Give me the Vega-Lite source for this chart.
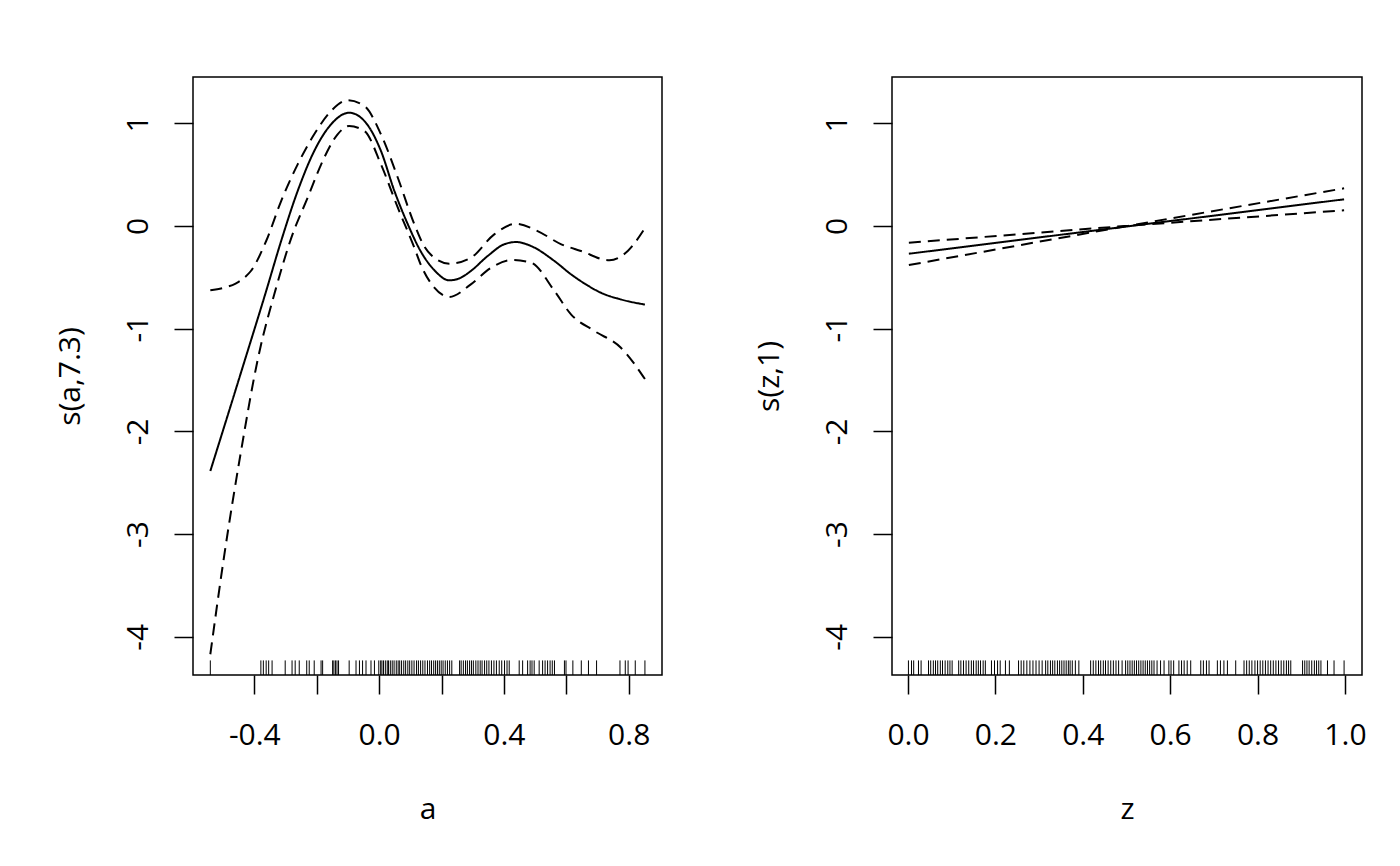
{
  "$schema": "https://vega.github.io/schema/vega-lite/v6.json",
  "padding": {"left": 54, "top": 76, "right": 0, "bottom": 40},
  "spacing": 230,
  "bounds": "flush",
  "datasets": {
    "curveA": [
      {"a": -0.541, "s": -2.386, "curve": "fit"},
      {"a": -0.49, "s": -1.89, "curve": "fit"},
      {"a": -0.443, "s": -1.43, "curve": "fit"},
      {"a": -0.362, "s": -0.633, "curve": "fit"},
      {"a": -0.314, "s": -0.146, "curve": "fit"},
      {"a": -0.261, "s": 0.341, "curve": "fit"},
      {"a": -0.208, "s": 0.73, "curve": "fit"},
      {"a": -0.154, "s": 0.99, "curve": "fit"},
      {"a": -0.096, "s": 1.103, "curve": "fit"},
      {"a": -0.047, "s": 1.022, "curve": "fit"},
      {"a": 0.006, "s": 0.73, "curve": "fit"},
      {"a": 0.049, "s": 0.341, "curve": "fit"},
      {"a": 0.092, "s": 0.017, "curve": "fit"},
      {"a": 0.134, "s": -0.25, "curve": "fit"},
      {"a": 0.177, "s": -0.43, "curve": "fit"},
      {"a": 0.225, "s": -0.529, "curve": "fit"},
      {"a": 0.262, "s": -0.503, "curve": "fit"},
      {"a": 0.294, "s": -0.438, "curve": "fit"},
      {"a": 0.348, "s": -0.292, "curve": "fit"},
      {"a": 0.401, "s": -0.178, "curve": "fit"},
      {"a": 0.439, "s": -0.156, "curve": "fit"},
      {"a": 0.487, "s": -0.195, "curve": "fit"},
      {"a": 0.562, "s": -0.341, "curve": "fit"},
      {"a": 0.615, "s": -0.47, "curve": "fit"},
      {"a": 0.669, "s": -0.58, "curve": "fit"},
      {"a": 0.711, "s": -0.65, "curve": "fit"},
      {"a": 0.775, "s": -0.715, "curve": "fit"},
      {"a": 0.852, "s": -0.765, "curve": "fit"},
      {"a": -0.541, "s": -0.625, "curve": "upper"},
      {"a": -0.496, "s": -0.6, "curve": "upper"},
      {"a": -0.46, "s": -0.56, "curve": "upper"},
      {"a": -0.432, "s": -0.503, "curve": "upper"},
      {"a": -0.411, "s": -0.438, "curve": "upper"},
      {"a": -0.362, "s": -0.146, "curve": "upper"},
      {"a": -0.314, "s": 0.243, "curve": "upper"},
      {"a": -0.261, "s": 0.6, "curve": "upper"},
      {"a": -0.208, "s": 0.893, "curve": "upper"},
      {"a": -0.154, "s": 1.12, "curve": "upper"},
      {"a": -0.101, "s": 1.224, "curve": "upper"},
      {"a": -0.047, "s": 1.168, "curve": "upper"},
      {"a": 0.006, "s": 0.893, "curve": "upper"},
      {"a": 0.06, "s": 0.47, "curve": "upper"},
      {"a": 0.113, "s": 0.017, "curve": "upper"},
      {"a": 0.145, "s": -0.2, "curve": "upper"},
      {"a": 0.177, "s": -0.309, "curve": "upper"},
      {"a": 0.225, "s": -0.367, "curve": "upper"},
      {"a": 0.294, "s": -0.309, "curve": "upper"},
      {"a": 0.369, "s": -0.081, "curve": "upper"},
      {"a": 0.439, "s": 0.022, "curve": "upper"},
      {"a": 0.508, "s": -0.049, "curve": "upper"},
      {"a": 0.584, "s": -0.178, "curve": "upper"},
      {"a": 0.647, "s": -0.243, "curve": "upper"},
      {"a": 0.738, "s": -0.334, "curve": "upper"},
      {"a": 0.797, "s": -0.243, "curve": "upper"},
      {"a": 0.852, "s": -0.02, "curve": "upper"},
      {"a": -0.541, "s": -4.17, "curve": "lower"},
      {"a": -0.496, "s": -3.2, "curve": "lower"},
      {"a": -0.443, "s": -2.2, "curve": "lower"},
      {"a": -0.389, "s": -1.3, "curve": "lower"},
      {"a": -0.33, "s": -0.6, "curve": "lower"},
      {"a": -0.282, "s": -0.12, "curve": "lower"},
      {"a": -0.229, "s": 0.276, "curve": "lower"},
      {"a": -0.176, "s": 0.665, "curve": "lower"},
      {"a": -0.133, "s": 0.893, "curve": "lower"},
      {"a": -0.096, "s": 0.974, "curve": "lower"},
      {"a": -0.047, "s": 0.925, "curve": "lower"},
      {"a": 0.006, "s": 0.6, "curve": "lower"},
      {"a": 0.06, "s": 0.178, "curve": "lower"},
      {"a": 0.113, "s": -0.211, "curve": "lower"},
      {"a": 0.134, "s": -0.38, "curve": "lower"},
      {"a": 0.177, "s": -0.6, "curve": "lower"},
      {"a": 0.225, "s": -0.691, "curve": "lower"},
      {"a": 0.294, "s": -0.568, "curve": "lower"},
      {"a": 0.359, "s": -0.406, "curve": "lower"},
      {"a": 0.428, "s": -0.331, "curve": "lower"},
      {"a": 0.487, "s": -0.357, "curve": "lower"},
      {"a": 0.562, "s": -0.633, "curve": "lower"},
      {"a": 0.615, "s": -0.86, "curve": "lower"},
      {"a": 0.69, "s": -1.022, "curve": "lower"},
      {"a": 0.775, "s": -1.185, "curve": "lower"},
      {"a": 0.852, "s": -1.49, "curve": "lower"}
    ],
    "rugA": [
      {"a": -0.541}, {"a": -0.379}, {"a": -0.371}, {"a": -0.362}, {"a": -0.354}, {"a": -0.343},
      {"a": -0.301}, {"a": -0.279}, {"a": -0.269}, {"a": -0.256}, {"a": -0.232}, {"a": -0.224},
      {"a": -0.208}, {"a": -0.186}, {"a": -0.181}, {"a": -0.149}, {"a": -0.145}, {"a": -0.14},
      {"a": -0.135}, {"a": -0.13}, {"a": -0.096}, {"a": -0.074}, {"a": -0.063}, {"a": -0.053},
      {"a": -0.042}, {"a": -0.026}, {"a": -0.015}, {"a": -0.001}, {"a": 0.005}, {"a": 0.009},
      {"a": 0.014}, {"a": 0.02}, {"a": 0.026}, {"a": 0.03}, {"a": 0.036}, {"a": 0.042},
      {"a": 0.048}, {"a": 0.055}, {"a": 0.061}, {"a": 0.066}, {"a": 0.072}, {"a": 0.079},
      {"a": 0.085}, {"a": 0.092}, {"a": 0.098}, {"a": 0.105}, {"a": 0.112}, {"a": 0.12},
      {"a": 0.126}, {"a": 0.133}, {"a": 0.14}, {"a": 0.147}, {"a": 0.155}, {"a": 0.162},
      {"a": 0.168}, {"a": 0.175}, {"a": 0.181}, {"a": 0.187}, {"a": 0.193}, {"a": 0.199},
      {"a": 0.205}, {"a": 0.212}, {"a": 0.219}, {"a": 0.226}, {"a": 0.233}, {"a": 0.258},
      {"a": 0.263}, {"a": 0.27}, {"a": 0.277}, {"a": 0.283}, {"a": 0.29}, {"a": 0.296},
      {"a": 0.302}, {"a": 0.31}, {"a": 0.317}, {"a": 0.324}, {"a": 0.33}, {"a": 0.338},
      {"a": 0.345}, {"a": 0.352}, {"a": 0.36}, {"a": 0.368}, {"a": 0.376}, {"a": 0.385},
      {"a": 0.393}, {"a": 0.402}, {"a": 0.41}, {"a": 0.417}, {"a": 0.449}, {"a": 0.46},
      {"a": 0.476}, {"a": 0.484}, {"a": 0.49}, {"a": 0.497}, {"a": 0.513}, {"a": 0.524},
      {"a": 0.532}, {"a": 0.54}, {"a": 0.548}, {"a": 0.555}, {"a": 0.562}, {"a": 0.594},
      {"a": 0.599}, {"a": 0.621}, {"a": 0.648}, {"a": 0.671}, {"a": 0.697}, {"a": 0.772},
      {"a": 0.789}, {"a": 0.798}, {"a": 0.821}, {"a": 0.852}
    ],
    "curveZ": [
      {"z": 0.002, "s": -0.27, "curve": "fit"},
      {"z": 0.998, "s": 0.26, "curve": "fit"},
      {"z": 0.002, "s": -0.163, "curve": "upper"},
      {"z": 0.505, "s": 0.003, "curve": "upper"},
      {"z": 0.998, "s": 0.367, "curve": "upper"},
      {"z": 0.002, "s": -0.38, "curve": "lower"},
      {"z": 0.505, "s": 0.003, "curve": "lower"},
      {"z": 0.998, "s": 0.153, "curve": "lower"}
    ],
    "rugZ": [
      {"z": 0.001}, {"z": 0.008}, {"z": 0.013}, {"z": 0.024}, {"z": 0.03}, {"z": 0.047},
      {"z": 0.052}, {"z": 0.058}, {"z": 0.063}, {"z": 0.068}, {"z": 0.074}, {"z": 0.079},
      {"z": 0.085}, {"z": 0.091}, {"z": 0.096}, {"z": 0.101}, {"z": 0.116}, {"z": 0.121},
      {"z": 0.127}, {"z": 0.133}, {"z": 0.139}, {"z": 0.145}, {"z": 0.15}, {"z": 0.156},
      {"z": 0.161}, {"z": 0.166}, {"z": 0.172}, {"z": 0.177}, {"z": 0.191}, {"z": 0.198},
      {"z": 0.205}, {"z": 0.211}, {"z": 0.223}, {"z": 0.232}, {"z": 0.253}, {"z": 0.259},
      {"z": 0.265}, {"z": 0.272}, {"z": 0.279}, {"z": 0.286}, {"z": 0.293}, {"z": 0.3},
      {"z": 0.307}, {"z": 0.315}, {"z": 0.32}, {"z": 0.326}, {"z": 0.331}, {"z": 0.336},
      {"z": 0.342}, {"z": 0.347}, {"z": 0.352}, {"z": 0.357}, {"z": 0.362}, {"z": 0.367},
      {"z": 0.371}, {"z": 0.376}, {"z": 0.383}, {"z": 0.391}, {"z": 0.418}, {"z": 0.424},
      {"z": 0.43}, {"z": 0.436}, {"z": 0.441}, {"z": 0.447}, {"z": 0.452}, {"z": 0.458},
      {"z": 0.464}, {"z": 0.47}, {"z": 0.476}, {"z": 0.482}, {"z": 0.49}, {"z": 0.498},
      {"z": 0.503}, {"z": 0.508}, {"z": 0.513}, {"z": 0.518}, {"z": 0.523}, {"z": 0.528},
      {"z": 0.533}, {"z": 0.538}, {"z": 0.543}, {"z": 0.548}, {"z": 0.553}, {"z": 0.558},
      {"z": 0.563}, {"z": 0.57}, {"z": 0.578}, {"z": 0.586}, {"z": 0.597}, {"z": 0.602},
      {"z": 0.608}, {"z": 0.62}, {"z": 0.626}, {"z": 0.632}, {"z": 0.639}, {"z": 0.647},
      {"z": 0.67}, {"z": 0.676}, {"z": 0.683}, {"z": 0.689}, {"z": 0.708}, {"z": 0.715},
      {"z": 0.723}, {"z": 0.731}, {"z": 0.75}, {"z": 0.769}, {"z": 0.775}, {"z": 0.781},
      {"z": 0.787}, {"z": 0.794}, {"z": 0.8}, {"z": 0.806}, {"z": 0.812}, {"z": 0.818},
      {"z": 0.824}, {"z": 0.83}, {"z": 0.836}, {"z": 0.842}, {"z": 0.848}, {"z": 0.854},
      {"z": 0.86}, {"z": 0.866}, {"z": 0.871}, {"z": 0.876}, {"z": 0.903}, {"z": 0.908},
      {"z": 0.913}, {"z": 0.918}, {"z": 0.924}, {"z": 0.93}, {"z": 0.935}, {"z": 0.94},
      {"z": 0.945}, {"z": 0.96}, {"z": 0.975}, {"z": 0.998}
    ]
  },
  "hconcat": [
    {
      "width": 469,
      "height": 598,
      "layer": [
        {
          "data": {"name": "rugA"},
          "mark": {"type": "rule", "color": "black", "strokeWidth": 1},
          "encoding": {
            "x": {
              "field": "a", "type": "quantitative", "title": "a",
              "scale": {"domain": [-0.5965, 0.9067], "nice": false, "zero": false},
              "axis": {
                "values": [-0.4, -0.2, 0, 0.2, 0.4, 0.6, 0.8],
                "labelExpr": "abs(datum.value * 10 % 4) < 0.01 ? replace(format(datum.value, '.1f'), '\u2212', '-') : ''"
              }
            },
            "y": {
              "datum": -4.23, "type": "quantitative", "title": "s(a,7.3)",
              "scale": {"domain": [-4.372, 1.451], "nice": false, "zero": false},
              "axis": {
                "values": [-4, -3, -2, -1, 0, 1],
                "labelExpr": "replace(format(datum.value, 'd'), '\u2212', '-')"
              }
            },
            "y2": {"datum": -4.372}
          }
        },
        {
          "data": {"name": "curveA"},
          "mark": {"type": "line", "interpolate": "monotone", "color": "black", "strokeWidth": 2},
          "encoding": {
            "x": {"field": "a", "type": "quantitative", "title": "a"},
            "y": {"field": "s", "type": "quantitative", "title": "s(a,7.3)"},
            "detail": {"field": "curve", "type": "nominal"},
            "strokeDash": {
              "field": "curve", "type": "nominal", "legend": null,
              "scale": {"domain": ["fit", "upper", "lower"], "range": [[1, 0], [12, 7], [12, 7]]}
            }
          }
        }
      ]
    },
    {
      "width": 470,
      "height": 598,
      "layer": [
        {
          "data": {"name": "rugZ"},
          "mark": {"type": "rule", "color": "black", "strokeWidth": 1},
          "encoding": {
            "x": {
              "field": "z", "type": "quantitative", "title": "z",
              "scale": {"domain": [-0.0366, 1.039], "nice": false, "zero": false},
              "axis": {"values": [0, 0.2, 0.4, 0.6, 0.8, 1], "format": ".1f"}
            },
            "y": {
              "datum": -4.23, "type": "quantitative", "title": "s(z,1)",
              "scale": {"domain": [-4.372, 1.451], "nice": false, "zero": false},
              "axis": {
                "values": [-4, -3, -2, -1, 0, 1],
                "labelExpr": "replace(format(datum.value, 'd'), '\u2212', '-')"
              }
            },
            "y2": {"datum": -4.372}
          }
        },
        {
          "data": {"name": "curveZ"},
          "mark": {"type": "line", "color": "black", "strokeWidth": 2},
          "encoding": {
            "x": {"field": "z", "type": "quantitative", "title": "z"},
            "y": {"field": "s", "type": "quantitative", "title": "s(z,1)"},
            "detail": {"field": "curve", "type": "nominal"},
            "strokeDash": {
              "field": "curve", "type": "nominal", "legend": null,
              "scale": {"domain": ["fit", "upper", "lower"], "range": [[1, 0], [12, 7], [12, 7]]}
            }
          }
        }
      ]
    }
  ],
  "config": {
    "font": "Open Sans",
    "view": {"stroke": "black", "strokeWidth": 1.5},
    "axis": {
      "domain": false,
      "grid": false,
      "tickColor": "black",
      "tickSize": 19,
      "tickWidth": 1.5,
      "labelColor": "black",
      "labelFontSize": 30,
      "labelOverlap": false,
      "labelFlush": false,
      "titleColor": "black",
      "titleFontSize": 30,
      "titleFontWeight": "normal"
    },
    "axisX": {"labelPadding": 26, "titlePadding": 44},
    "axisY": {"labelAngle": 270, "labelPadding": 21, "titlePadding": 38}
  }
}
